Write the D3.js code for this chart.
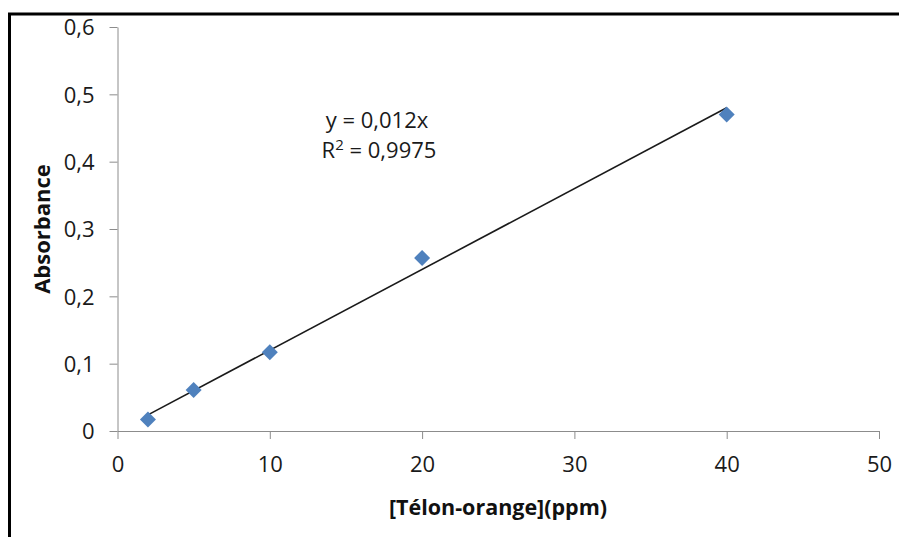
<!DOCTYPE html>
<html>
<head>
<meta charset="utf-8">
<script src="https://cdn.jsdelivr.net/npm/d3@7"></script>
<style>
  body { margin: 0; background: #fff; }
  svg { display: block; }
  .axis path, .axis line { stroke: #8c8c8c; }
  .axis text { font-family: "Open Sans", sans-serif; font-size: 22px; fill: #1a1a1a; }
</style>
</head>
<body>
<svg width="899" height="537"></svg>
<script>
// measured data
var concentrations = [2, 5, 10, 20, 40];
var absorbances = [0.017, 0.061, 0.117, 0.257, 0.470];

var xTicks = [0, 10, 20, 30, 40, 50];
var yTicks = [0, 0.1, 0.2, 0.3, 0.4, 0.5, 0.6];
var yTickLabels = ["0", "0,1", "0,2", "0,3", "0,4", "0,5", "0,6"];

// trend line y = slope * x, drawn from first to last point
var slope = 0.012;
var trendRange = [2, 40];
var eqLines = ["y = 0,012x", "R", "2", " = 0,9975"];

var svg = d3.select("svg"),
    margin = {top: 27, right: 20, bottom: 106, left: 117.5},
    width = 879 - margin.left,
    height = 431 - margin.top,
    g = svg.append("g").attr("transform", "translate(" + margin.left + "," + margin.top + ")");

// outer frame (only top and left edges visible)
svg.append("rect")
    .attr("x", 9.5).attr("y", 14)
    .attr("width", 1000).attr("height", 1000)
    .attr("fill", "none")
    .attr("stroke", "#000")
    .attr("stroke-width", 3);

var x = d3.scaleLinear().domain([0, 50]).range([0, width]);
var y = d3.scaleLinear().domain([0, 0.6]).range([height, 0]);

g.append("g")
    .attr("class", "axis")
    .attr("transform", "translate(0," + height + ")")
    .call(d3.axisBottom(x).tickValues(xTicks).tickSize(8).tickPadding(17).tickSizeOuter(0));

g.append("g")
    .attr("class", "axis")
    .call(d3.axisLeft(y).tickValues(yTicks).tickSize(8).tickPadding(15).tickSizeOuter(0)
        .tickFormat(function(d, i) { return yTickLabels[i]; }));

g.selectAll(".axis text").attr("dy", "0.35em");
g.selectAll(".axis").filter(function(d, i) { return i === 0; }).selectAll("text").attr("dy", "0.71em");

// trend line
g.append("line")
    .attr("x1", x(trendRange[0])).attr("y1", y(slope * trendRange[0]))
    .attr("x2", x(trendRange[1])).attr("y2", y(slope * trendRange[1]))
    .attr("stroke", "#1a1a1a")
    .attr("stroke-width", 1.6);

// markers
g.selectAll(".pt")
    .data(concentrations)
    .enter().append("path")
    .attr("class", "pt")
    .attr("d", d3.symbol().type(d3.symbolSquare).size(128))
    .attr("transform", function(d, i) { return "translate(" + x(d) + "," + y(absorbances[i]) + ") rotate(45)"; })
    .attr("fill", "#4F81BD");

// equation label
var eq = svg.append("text")
    .attr("font-family", "Open Sans, sans-serif")
    .attr("font-size", 22)
    .attr("fill", "#1a1a1a")
    .attr("text-anchor", "middle");
eq.append("tspan").attr("x", 377).attr("y", 128).text(eqLines[0]);
var l2 = eq.append("tspan").attr("x", 379).attr("y", 158);
l2.append("tspan").text(eqLines[1]);
l2.append("tspan").attr("font-size", 15).attr("dy", -8).text(eqLines[2]);
l2.append("tspan").attr("dy", 8).text(eqLines[3]);

// axis titles
svg.append("text")
    .attr("x", 498).attr("y", 515)
    .attr("text-anchor", "middle")
    .attr("font-family", "Open Sans, sans-serif")
    .attr("font-weight", "bold")
    .attr("font-size", 21.5)
    .attr("fill", "#111")
    .text("[Télon-orange](ppm)");

svg.append("text")
    .attr("transform", "translate(50,229) rotate(-90)")
    .attr("text-anchor", "middle")
    .attr("font-family", "Open Sans, sans-serif")
    .attr("font-weight", "bold")
    .attr("font-size", 22)
    .attr("fill", "#111")
    .text("Absorbance");
</script>
</body>
</html>
